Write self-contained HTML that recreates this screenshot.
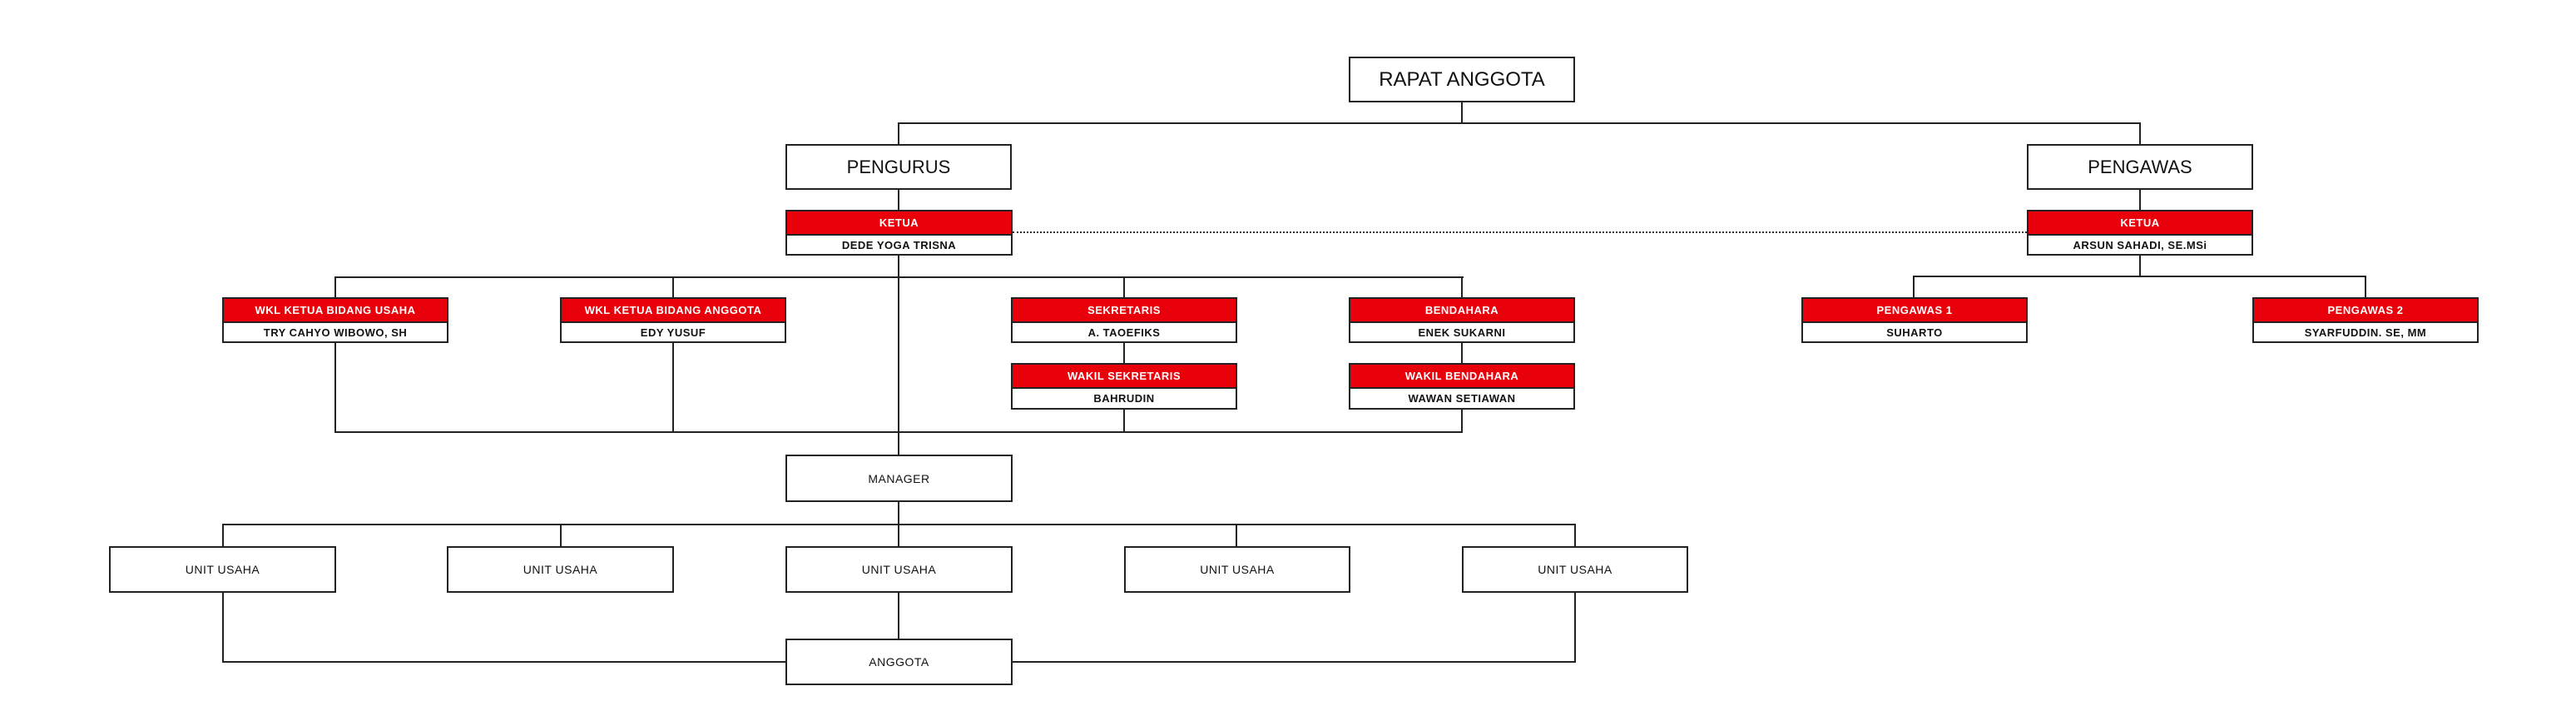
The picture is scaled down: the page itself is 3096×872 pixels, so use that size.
<!DOCTYPE html>
<html><head><meta charset="utf-8"><style>
body{margin:0;width:3096px;height:872px;background:#fff;position:relative;overflow:hidden;font-family:"Liberation Sans",sans-serif;}
.b{position:absolute;box-sizing:border-box;border:2px solid #222;background:#fff;display:flex;align-items:center;justify-content:center;color:#111;}
.h{position:absolute;background:#222;height:2px;}
.v{position:absolute;background:#222;width:2px;}
.r{position:absolute;box-sizing:border-box;border:2px solid #222;background:#fff;}
.r .t{height:27px;background:#e8000b;color:#fff;border-bottom:2px solid #222;display:flex;align-items:center;justify-content:center;font-size:13px;font-weight:bold;letter-spacing:.5px;}
.r .n{height:23px;display:flex;align-items:center;justify-content:center;font-size:13px;font-weight:bold;color:#111;letter-spacing:.5px;}
.s{font-size:14px;letter-spacing:.5px;}
</style></head><body>
<!-- connectors -->
<div class="v" style="left:1756px;top:122px;height:27px"></div>
<div class="h" style="left:1079px;top:147px;width:1494px"></div>
<div class="v" style="left:1079px;top:147px;height:27px"></div>
<div class="v" style="left:2571px;top:147px;height:27px"></div>
<div class="v" style="left:1079px;top:226px;height:27px"></div>
<div class="v" style="left:2571px;top:226px;height:27px"></div>
<div style="position:absolute;left:1217px;top:278px;width:1219px;border-top:2px dotted #333"></div>
<div class="h" style="left:402px;top:332px;width:1357px"></div>
<div class="v" style="left:402px;top:332px;height:25px"></div>
<div class="v" style="left:808px;top:332px;height:25px"></div>
<div class="v" style="left:1350px;top:332px;height:25px"></div>
<div class="v" style="left:1756px;top:332px;height:25px"></div>
<div class="v" style="left:1079px;top:306px;height:241px"></div>
<div class="h" style="left:2299px;top:331px;width:545px"></div>
<div class="v" style="left:2571px;top:306px;height:26px"></div>
<div class="v" style="left:2299px;top:331px;height:26px"></div>
<div class="v" style="left:2842px;top:331px;height:26px"></div>
<div class="v" style="left:1350px;top:411px;height:26px"></div>
<div class="v" style="left:1756px;top:411px;height:26px"></div>
<div class="v" style="left:402px;top:411px;height:109px"></div>
<div class="v" style="left:808px;top:411px;height:109px"></div>
<div class="v" style="left:1350px;top:491px;height:29px"></div>
<div class="v" style="left:1756px;top:491px;height:29px"></div>
<div class="h" style="left:402px;top:518px;width:1356px"></div>
<div class="v" style="left:1079px;top:602px;height:55px"></div>
<div class="h" style="left:267px;top:629px;width:1627px"></div>
<div class="v" style="left:267px;top:629px;height:28px"></div>
<div class="v" style="left:673px;top:629px;height:28px"></div>
<div class="v" style="left:1485px;top:629px;height:28px"></div>
<div class="v" style="left:1892px;top:629px;height:28px"></div>
<div class="v" style="left:1079px;top:711px;height:57px"></div>
<div class="v" style="left:267px;top:711px;height:85px"></div>
<div class="v" style="left:1892px;top:711px;height:85px"></div>
<div class="h" style="left:267px;top:794px;width:1627px"></div>
<!-- boxes -->
<div class="b" style="left:1621px;top:68px;width:272px;height:55px;font-size:24px">RAPAT ANGGOTA</div>
<div class="b" style="left:944px;top:173px;width:272px;height:55px;font-size:22px">PENGURUS</div>
<div class="b" style="left:2436px;top:173px;width:272px;height:55px;font-size:22px">PENGAWAS</div>
<div class="r" style="left:944px;top:252px;width:273px;height:55px"><div class="t">KETUA</div><div class="n">DEDE YOGA TRISNA</div></div>
<div class="r" style="left:2436px;top:252px;width:272px;height:55px"><div class="t">KETUA</div><div class="n">ARSUN SAHADI, SE.MSi</div></div>
<div class="r" style="left:267px;top:357px;width:272px;height:55px"><div class="t">WKL KETUA BIDANG USAHA</div><div class="n">TRY CAHYO WIBOWO, SH</div></div>
<div class="r" style="left:673px;top:357px;width:272px;height:55px"><div class="t">WKL KETUA BIDANG ANGGOTA</div><div class="n">EDY YUSUF</div></div>
<div class="r" style="left:1215px;top:357px;width:272px;height:55px"><div class="t">SEKRETARIS</div><div class="n">A. TAOEFIKS</div></div>
<div class="r" style="left:1621px;top:357px;width:272px;height:55px"><div class="t">BENDAHARA</div><div class="n">ENEK SUKARNI</div></div>
<div class="r" style="left:2165px;top:357px;width:272px;height:55px"><div class="t">PENGAWAS 1</div><div class="n">SUHARTO</div></div>
<div class="r" style="left:2707px;top:357px;width:272px;height:55px"><div class="t">PENGAWAS 2</div><div class="n">SYARFUDDIN. SE, MM</div></div>
<div class="r" style="left:1215px;top:436px;width:272px;height:56px"><div class="t">WAKIL SEKRETARIS</div><div class="n">BAHRUDIN</div></div>
<div class="r" style="left:1621px;top:436px;width:272px;height:56px"><div class="t">WAKIL BENDAHARA</div><div class="n">WAWAN SETIAWAN</div></div>
<div class="b s" style="left:944px;top:546px;width:273px;height:57px">MANAGER</div>
<div class="b s" style="left:131px;top:656px;width:273px;height:56px">UNIT USAHA</div>
<div class="b s" style="left:537px;top:656px;width:273px;height:56px">UNIT USAHA</div>
<div class="b s" style="left:944px;top:656px;width:273px;height:56px">UNIT USAHA</div>
<div class="b s" style="left:1351px;top:656px;width:272px;height:56px">UNIT USAHA</div>
<div class="b s" style="left:1757px;top:656px;width:272px;height:56px">UNIT USAHA</div>
<div class="b s" style="left:944px;top:767px;width:273px;height:56px">ANGGOTA</div>
</body></html>
